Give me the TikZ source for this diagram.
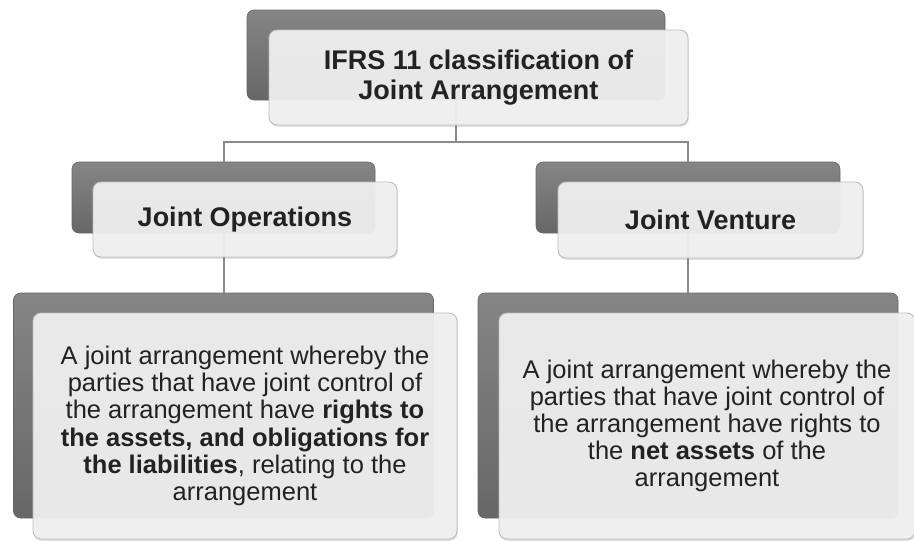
\documentclass[tikz,border=0pt]{standalone}
\usepackage{fontspec}
\setmainfont{Liberation Sans}
\usetikzlibrary{shadows}
\definecolor{slabtop}{HTML}{858585}
\definecolor{slabbot}{HTML}{676767}
\definecolor{cardfill}{HTML}{F0F0F0}
\definecolor{cardedge}{HTML}{BDBDBD}
\definecolor{linkgray}{HTML}{8A8A8A}
\definecolor{inkgray}{HTML}{222222}
\begin{document}
\begin{tikzpicture}[x=1pt,y=-1pt,
  slab/.style={rounded corners=7pt,top color=slabtop,bottom color=slabbot,draw=slabbot,line width=.6pt,inner sep=0pt},
  card/.style={rounded corners=8pt,fill=cardfill,fill opacity=.94,text opacity=1,draw=cardedge,line width=.9pt,
    drop shadow={opacity=.25,shadow xshift=.8pt,shadow yshift=-1.8pt},text=inkgray,inner sep=0pt,align=center},
  head/.style={card,font=\bfseries\fontsize{27}{30}\selectfont},
  body/.style={card,font=\fontsize{25.5}{27.2}\selectfont},
  link/.style={draw=linkgray,line width=2pt}]
\useasboundingbox (0,0) rectangle (914,541);
\fill[white] (0,0) rectangle (914,541);
% dark backing slabs
\node[slab,minimum width=418pt,minimum height=90pt] (tback) at (456,55) {};
\node[slab,minimum width=303pt,minimum height=71pt] (opback) at (223.5,197.5) {};
\node[slab,minimum width=304pt,minimum height=71pt] (jvback) at (688,197.5) {};
\node[slab,minimum width=420pt,minimum height=225pt] (opdefback) at (223.5,405.5) {};
\node[slab,minimum width=420pt,minimum height=225pt] (jvdefback) at (688,405.5) {};
% tree lines
\draw[link] (tback.south) -- ++(0,42) coordinate (fork) -| (opback.north);
\draw[link] (fork) -| (jvback.north);
\draw[link] (opback.south) -- (opdefback.north);
\draw[link] (jvback.south) -- (jvdefback.north);
% front cards
\node[head,minimum width=419pt,minimum height=95pt] (title) at (478.5,77.5) {IFRS 11 classification of\\Joint Arrangement};
\node[head,minimum width=304pt,minimum height=75pt] (op) at (245,219.5) {Joint Operations};
\node[head,minimum width=305pt,minimum height=76pt] (jv) at (710.5,220) {Joint Venture};
\node[body,minimum width=424pt,minimum height=226pt] (opdef) at (245,426) {A joint arrangement whereby the\\parties that have joint control of\\the arrangement have \textbf{rights to}\\\textbf{the assets, and obligations for}\\\textbf{the liabilities}, relating to the\\arrangement};
\node[body,minimum width=416pt,minimum height=226pt] (jvdef) at (707,426) {A joint arrangement whereby the\\parties that have joint control of\\the arrangement have rights to\\the \textbf{net assets} of the\\arrangement};
\end{tikzpicture}
\end{document}
